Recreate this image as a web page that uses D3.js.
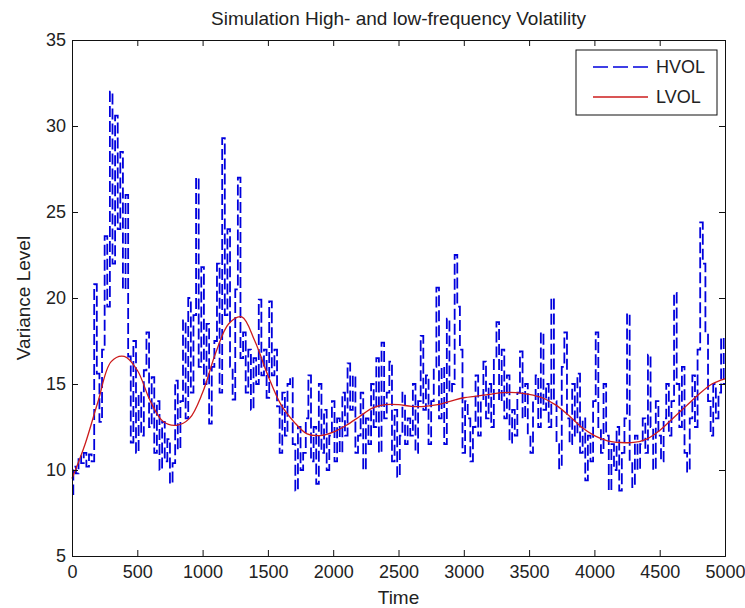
<!DOCTYPE html>
<html lang="en">
<head>
<meta charset="UTF-8">
<title>Simulation High- and low-frequency Volatility</title>
<script src="https://d3js.org/d3.v7.min.js"></script>
<style>
  body { margin: 0; background: #fff; }
  text { font-family: "Liberation Sans", Arial, sans-serif; fill: #222; }
</style>
</head>
<body>
<script>
    // high-frequency series, one value every 20 time steps (t = 0..5000)
    const hvolStep = 20;
    const hvol = [
        8.6, 10.2, 9.8, 10.8, 10.4, 11.0, 10.2, 10.9, 10.5, 20.8,
        15.6, 12.8, 17.0, 23.6, 19.5, 32.0, 22.0, 30.6, 24.0, 28.5,
        20.5, 26.0, 16.6, 11.6, 17.5, 11.0, 14.5, 12.0, 15.8, 18.0,
        12.5, 15.4, 11.0, 14.0, 10.0, 12.8, 10.5, 11.8, 9.2, 10.4,
        15.2, 11.2, 14.0, 18.7, 13.0, 20.0, 14.5, 19.0, 27.0, 16.0,
        21.8, 15.0, 18.5, 12.7, 16.0, 17.5, 22.0, 14.5, 29.3, 19.0,
        24.0, 16.0, 14.1, 20.5, 27.0, 16.5, 18.0, 14.5, 17.0, 13.5,
        16.5, 15.0, 19.9, 15.5, 17.0, 14.2, 19.8, 15.5, 17.0, 13.7,
        11.0, 14.5, 12.0, 15.0, 15.4, 11.5, 8.8, 12.5, 10.0, 11.0,
        13.0, 15.5, 10.5, 12.5, 9.2, 15.0, 11.0, 13.5, 10.0, 12.0,
        14.0, 10.5, 13.0, 11.0, 14.5, 12.0, 16.2, 13.5, 15.5, 11.0,
        12.0, 14.5, 10.0, 13.0, 11.5, 15.0, 12.5, 16.5, 11.0, 17.4,
        13.0, 14.5, 16.3, 10.5, 13.5, 9.6, 12.0, 14.5, 11.5, 13.0,
        12.0, 15.0, 11.0, 14.0, 17.8, 13.5, 15.5, 11.5, 14.0, 16.0,
        20.6, 13.0, 16.0, 11.5, 18.8, 14.5, 15.0, 22.5, 19.5, 17.0,
        11.0, 14.0, 13.0, 10.5, 12.5, 15.5, 12.0, 14.0, 16.3, 13.0,
        15.0, 12.5, 16.5, 18.6, 14.0, 17.0, 13.0, 15.5, 11.6, 13.5,
        12.0, 14.5, 16.9, 13.0, 15.0, 12.0, 11.0, 14.0, 15.5, 12.5,
        18.0, 13.5, 15.0, 12.5, 20.0, 14.0, 11.5, 10.1, 16.0, 18.0,
        13.0, 11.5, 15.0, 12.0, 15.6, 11.0, 13.0, 9.4, 12.0, 10.5,
        14.0, 18.0, 12.5, 11.0, 15.0, 12.0, 8.8, 11.5, 10.0, 12.5,
        8.8, 11.0, 13.0, 19.1, 10.5, 9.0, 12.0, 10.0, 11.5, 13.0,
        11.0, 16.7, 12.5, 10.0, 14.0, 12.0, 10.5, 13.0, 15.0, 12.0,
        14.0, 20.3, 15.0, 12.5, 16.0, 11.0, 9.9, 13.0, 15.5, 12.5,
        17.0, 24.4, 22.0, 18.0, 14.0, 12.0, 15.0, 13.0, 14.5, 17.7,
        15.0
    ];

    // low-frequency component, one value every 100 time steps
    const lvolStep = 100;
    const lvol = [
        9.5, 11.5, 14.0, 16.3, 16.6, 15.8, 14.0, 12.8, 12.6, 13.0,
        14.5, 16.8, 18.5, 18.9, 17.5, 15.5, 13.8, 12.8, 12.1, 12.0,
        12.2, 12.6, 13.1, 13.6, 13.8, 13.8, 13.7, 13.7, 13.8, 14.0,
        14.2, 14.3, 14.4, 14.5, 14.5, 14.4, 14.2, 13.8, 13.2, 12.5,
        12.0, 11.7, 11.6, 11.6, 11.8, 12.3, 13.0, 13.7, 14.4, 15.0,
        15.3
    ];

    const xTicks = [0, 500, 1000, 1500, 2000, 2500, 3000, 3500, 4000, 4500, 5000];
    const yTicks = [5, 10, 15, 20, 25, 30, 35];
    const seriesNames = ["HVOL", "LVOL"];

    const width = 745, height = 608;
    const mLeft = 72, mRight = 725, mTop = 40, mBottom = 556;

    const hColor = "#0000dd", lColor = "#cc1c1c";

    const svg = d3.select("body").append("svg")
        .attr("width", width)
        .attr("height", height);

    const x = d3.scaleLinear().domain([0, 5000]).range([mLeft, mRight]);
    const y = d3.scaleLinear().domain([5, 35]).range([mBottom, mTop]);

    // series lines
    const hLine = d3.line()
        .x((d, i) => x(i * hvolStep))
        .y(d => y(d))
        .curve(d3.curveStep);

    const lLine = d3.line()
        .x((d, i) => x(i * lvolStep))
        .y(d => y(d))
        .curve(d3.curveCatmullRom);

    svg.append("path")
        .datum(hvol)
        .attr("fill", "none")
        .attr("stroke", hColor)
        .attr("stroke-width", 1.8)
        .attr("stroke-dasharray", "11,4")
        .attr("d", hLine);

    svg.append("path")
        .datum(lvol)
        .attr("fill", "none")
        .attr("stroke", lColor)
        .attr("stroke-width", 1.3)
        .attr("d", lLine);

    // axes, MATLAB style: ticks inside, box all round
    const tickLen = 6;
    const axisFont = 18;

    svg.append("g")
        .attr("transform", `translate(0,${mBottom})`)
        .call(d3.axisBottom(x).tickValues(xTicks).tickSize(-tickLen).tickPadding(9).tickFormat(d3.format("d")))
        .call(g => g.selectAll("text").attr("font-size", axisFont).attr("font-family", null));

    svg.append("g")
        .attr("transform", `translate(0,${mTop})`)
        .call(d3.axisTop(x).tickValues(xTicks).tickSize(-tickLen).tickFormat(""));

    svg.append("g")
        .attr("transform", `translate(${mLeft},0)`)
        .call(d3.axisLeft(y).tickValues(yTicks).tickSize(-tickLen).tickPadding(6))
        .call(g => g.selectAll("text").attr("font-size", axisFont).attr("font-family", null));

    svg.append("g")
        .attr("transform", `translate(${mRight},0)`)
        .call(d3.axisRight(y).tickValues(yTicks).tickSize(-tickLen).tickFormat(""));

    svg.selectAll(".domain").attr("stroke", "#111");
    svg.selectAll(".tick line").attr("stroke", "#111");
    svg.selectAll(".tick text").attr("fill", "#222");

    // titles
    svg.append("text")
        .attr("x", (mLeft + mRight) / 2)
        .attr("y", 25)
        .attr("text-anchor", "middle")
        .attr("font-size", 19)
        .text("Simulation High- and low-frequency Volatility");

    svg.append("text")
        .attr("x", (mLeft + mRight) / 2)
        .attr("y", 604)
        .attr("text-anchor", "middle")
        .attr("font-size", 19)
        .text("Time");

    svg.append("text")
        .attr("transform", `translate(30,${(mTop + mBottom) / 2}) rotate(-90)`)
        .attr("text-anchor", "middle")
        .attr("font-size", 19)
        .text("Variance Level");

    // legend
    const legend = svg.append("g");
    legend.append("rect")
        .attr("x", 576).attr("y", 50)
        .attr("width", 141).attr("height", 65)
        .attr("fill", "#fff")
        .attr("stroke", "#111");

    const legendStyles = [
        { stroke: hColor, dash: "15,5", w: 1.4 },
        { stroke: lColor, dash: null, w: 1.3 }
    ];
    seriesNames.forEach((name, i) => {
        const ly = 67 + i * 30;
        legend.append("line")
            .attr("x1", 593).attr("x2", 648)
            .attr("y1", ly).attr("y2", ly)
            .attr("stroke", legendStyles[i].stroke)
            .attr("stroke-width", legendStyles[i].w)
            .attr("stroke-dasharray", legendStyles[i].dash);
        legend.append("text")
            .attr("x", 656).attr("y", ly + 6)
            .attr("font-size", 18)
            .text(name);
    });
</script>
</body>
</html>
